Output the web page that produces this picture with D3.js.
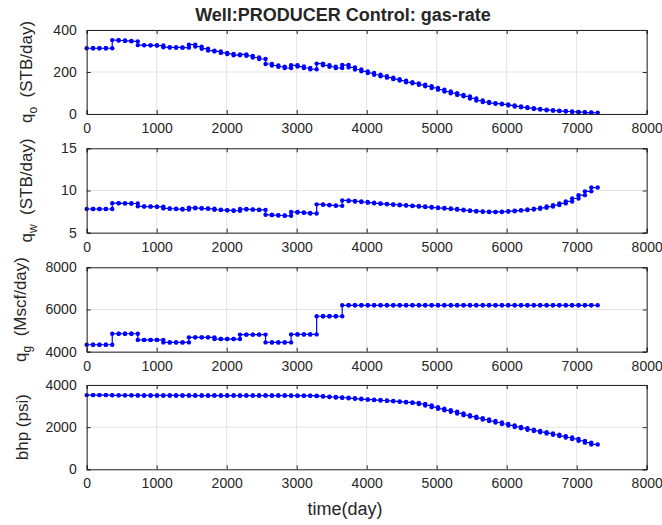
<!DOCTYPE html>
<html>
<head>
<meta charset="utf-8">
<script src="https://cdn.jsdelivr.net/npm/d3@7/dist/d3.min.js"></script>
<style>
  body { margin: 0; background: #fff; }
  text { font-family: "Liberation Sans", Arial, sans-serif; fill: #262626; }
</style>
</head>
<body>
<div id="chart"></div>
<script>
// report times (days) - one control step every quarter year
var days = [0, 91.25, 182.5, 273.75, 365, 456.25, 547.5, 638.75, 730, 821.25, 912.5, 1003.75,
  1095, 1186.25, 1277.5, 1368.75, 1460, 1551.25, 1642.5, 1733.75, 1825, 1916.25, 2007.5, 2098.75,
  2190, 2281.25, 2372.5, 2463.75, 2555, 2646.25, 2737.5, 2828.75, 2920, 3011.25, 3102.5, 3193.75,
  3285, 3376.25, 3467.5, 3558.75, 3650, 3741.25, 3832.5, 3923.75, 4015, 4106.25, 4197.5, 4288.75,
  4380, 4471.25, 4562.5, 4653.75, 4745, 4836.25, 4927.5, 5018.75, 5110, 5201.25, 5292.5, 5383.75,
  5475, 5566.25, 5657.5, 5748.75, 5840, 5931.25, 6022.5, 6113.75, 6205, 6296.25, 6387.5, 6478.75,
  6570, 6661.25, 6752.5, 6843.75, 6935, 7026.25, 7117.5, 7208.75, 7300];

// rates per step (4 per year)
var qOil = [313, 313, 313, 313, 352, 350, 348, 346, 328, 327, 327, 326, 318, 317, 317, 316,
  330, 321, 311, 302, 298, 291, 286, 280, 284, 277, 269, 262, 238, 231, 225, 219,
  232, 226, 219, 213, 240, 232, 225, 219, 233, 222, 212, 203, 195, 187, 180, 173,
  166, 159, 151, 146, 139, 132, 124, 116, 107, 99, 91, 84, 74, 64, 57, 52,
  49, 46, 41, 36, 32, 28, 24, 21, 18, 16, 14, 12, 10, 9, 7, 6];

var qWater = [7.81, 7.81, 7.81, 7.81, 8.50, 8.48, 8.47, 8.46, 8.12, 8.10, 8.09, 8.07, 7.88, 7.84, 7.80, 7.75,
  7.95, 7.90, 7.86, 7.83, 7.72, 7.68, 7.64, 7.60, 7.80, 7.76, 7.73, 7.70, 7.12, 7.08, 7.04, 7.00,
  7.45, 7.40, 7.35, 7.28, 8.36, 8.30, 8.24, 8.18, 8.82, 8.76, 8.70, 8.64, 8.56, 8.48, 8.42, 8.36,
  8.31, 8.26, 8.21, 8.16, 8.10, 8.04, 7.98, 7.92, 7.86, 7.80, 7.73, 7.65, 7.58, 7.52, 7.48, 7.46,
  7.46, 7.50, 7.55, 7.62, 7.68, 7.75, 7.84, 7.95, 8.10, 8.27, 8.47, 8.70, 9.05, 9.45, 9.90, 10.35];

var qGas = [4330, 4330, 4330, 4330, 4850, 4850, 4850, 4850, 4560, 4560, 4560, 4560, 4440, 4440, 4440, 4440,
  4680, 4680, 4680, 4680, 4600, 4600, 4600, 4600, 4810, 4810, 4810, 4810, 4440, 4440, 4440, 4440,
  4820, 4820, 4820, 4820, 5680, 5680, 5680, 5680, 6200, 6200, 6200, 6200, 6200, 6200, 6200, 6200,
  6200, 6200, 6200, 6200, 6200, 6200, 6200, 6200, 6200, 6200, 6200, 6200, 6200, 6200, 6200, 6200,
  6200, 6200, 6200, 6200, 6200, 6200, 6200, 6200, 6200, 6200, 6200, 6200, 6200, 6200, 6200, 6200];

var bhp = [3520, 3520, 3520, 3520, 3510, 3510, 3510, 3510, 3505, 3505, 3505, 3505, 3505, 3505, 3505, 3505,
  3500, 3500, 3500, 3500, 3500, 3500, 3500, 3500, 3500, 3500, 3500, 3500, 3500, 3500, 3500, 3500,
  3495, 3495, 3495, 3495, 3470, 3450, 3430, 3410, 3395, 3370, 3345, 3320, 3305, 3285, 3265, 3245,
  3225, 3200, 3175, 3150, 3100, 3030, 2950, 2870, 2800, 2730, 2650, 2570, 2500, 2430, 2360, 2290,
  2220, 2150, 2080, 2010, 1950, 1880, 1820, 1760, 1700, 1640, 1575, 1510, 1440, 1350, 1265, 1180];

var xTicks = [0, 1000, 2000, 3000, 4000, 5000, 6000, 7000, 8000];

var width = 662, height = 525;
var left = 86.7, right = 646.7;

var panels = [
  {values: qOil, top: 30, bottom: 114, domain: [0, 400], ticks: [0, 200, 400], name: "q", sub: "o", unit: "  (STB/day)", labelX: 32},
  {values: qWater, top: 148.3, bottom: 232.7, domain: [5, 15], ticks: [5, 10, 15], name: "q", sub: "w", unit: "  (STB/day)", labelX: 32},
  {values: qGas, top: 267.3, bottom: 351.7, domain: [4000, 8000], ticks: [4000, 6000, 8000], name: "q", sub: "g", unit: "  (Mscf/day)", labelX: 25.5},
  {values: bhp, top: 385, bottom: 469.3, domain: [0, 4000], ticks: [0, 2000, 4000], name: "bhp (psi)", sub: "", unit: "", labelX: 28}
];

var svg = d3.select("#chart").append("svg")
  .attr("width", width).attr("height", height);

var x = d3.scaleLinear().domain([0, 8000]).range([left, right]);

function drawPanel(p) {
  var y = d3.scaleLinear().domain(p.domain).range([p.bottom, p.top]);
  var g = svg.append("g");

  // grid
  g.selectAll(".gx").data(xTicks).enter().append("line")
    .attr("x1", function (d) { return x(d); }).attr("x2", function (d) { return x(d); })
    .attr("y1", p.top).attr("y2", p.bottom)
    .attr("stroke", "#e3e3e3").attr("stroke-width", 1);
  g.selectAll(".gy").data(p.ticks).enter().append("line")
    .attr("x1", left).attr("x2", right)
    .attr("y1", function (d) { return y(d); }).attr("y2", function (d) { return y(d); })
    .attr("stroke", "#e3e3e3").attr("stroke-width", 1);

  // stairs: each step drawn from its start to its end time
  var pts = [];
  p.values.forEach(function (v, i) {
    pts.push([days[i], v]);
    pts.push([days[i + 1], v]);
  });
  var line = d3.line()
    .x(function (d) { return x(d[0]); })
    .y(function (d) { return y(d[1]); });
  g.append("path").datum(pts)
    .attr("d", line)
    .attr("fill", "none").attr("stroke", "#0000ff").attr("stroke-width", 1.2);
  g.selectAll(".dot").data(pts).enter().append("circle")
    .attr("cx", function (d) { return x(d[0]); })
    .attr("cy", function (d) { return y(d[1]); })
    .attr("r", 2.2).attr("fill", "#0000ff");

  // axes (ticks inside, box all round)
  var axB = d3.axisBottom(x).tickValues(xTicks).tickSize(-4).tickPadding(9).tickFormat(d3.format("d"));
  var axT = d3.axisTop(x).tickValues(xTicks).tickSize(-4).tickFormat("");
  var axL = d3.axisLeft(y).tickValues(p.ticks).tickSize(-4).tickPadding(10).tickFormat(d3.format("d"));
  var axR = d3.axisRight(y).tickValues(p.ticks).tickSize(-4).tickFormat("");

  [[axB, "translate(0," + p.bottom + ")"], [axT, "translate(0," + p.top + ")"],
   [axL, "translate(" + left + ",0)"], [axR, "translate(" + right + ",0)"]].forEach(function (a) {
    var ag = g.append("g").attr("transform", a[1]).call(a[0]);
    ag.select(".domain").attr("stroke", "#262626");
    ag.selectAll(".tick line").attr("stroke", "#262626");
    ag.selectAll("text").attr("font-size", 14).attr("fill", "#262626")
      .attr("font-family", "Liberation Sans, Arial, sans-serif");
  });

  // y label
  var lab = svg.append("text")
    .attr("transform", "translate(" + p.labelX + "," + ((p.top + p.bottom) / 2) + ") rotate(-90)")
    .attr("text-anchor", "middle").attr("font-size", 17)
    .attr("xml:space", "preserve").style("white-space", "pre");
  lab.append("tspan").text(p.name);
  if (p.sub) {
    lab.append("tspan").attr("dy", 5).attr("font-size", 12).text(p.sub);
    lab.append("tspan").attr("dy", -5).text(p.unit);
  }
}

panels.forEach(drawPanel);

svg.append("text")
  .attr("x", 343).attr("y", 21)
  .attr("text-anchor", "middle").attr("font-size", 18).attr("font-weight", "bold")
  .attr("fill", "#000")
  .text("Well:PRODUCER Control: gas-rate");

svg.append("text")
  .attr("x", 345).attr("y", 515)
  .attr("text-anchor", "middle").attr("font-size", 18)
  .text("time(day)");
</script>
</body>
</html>
